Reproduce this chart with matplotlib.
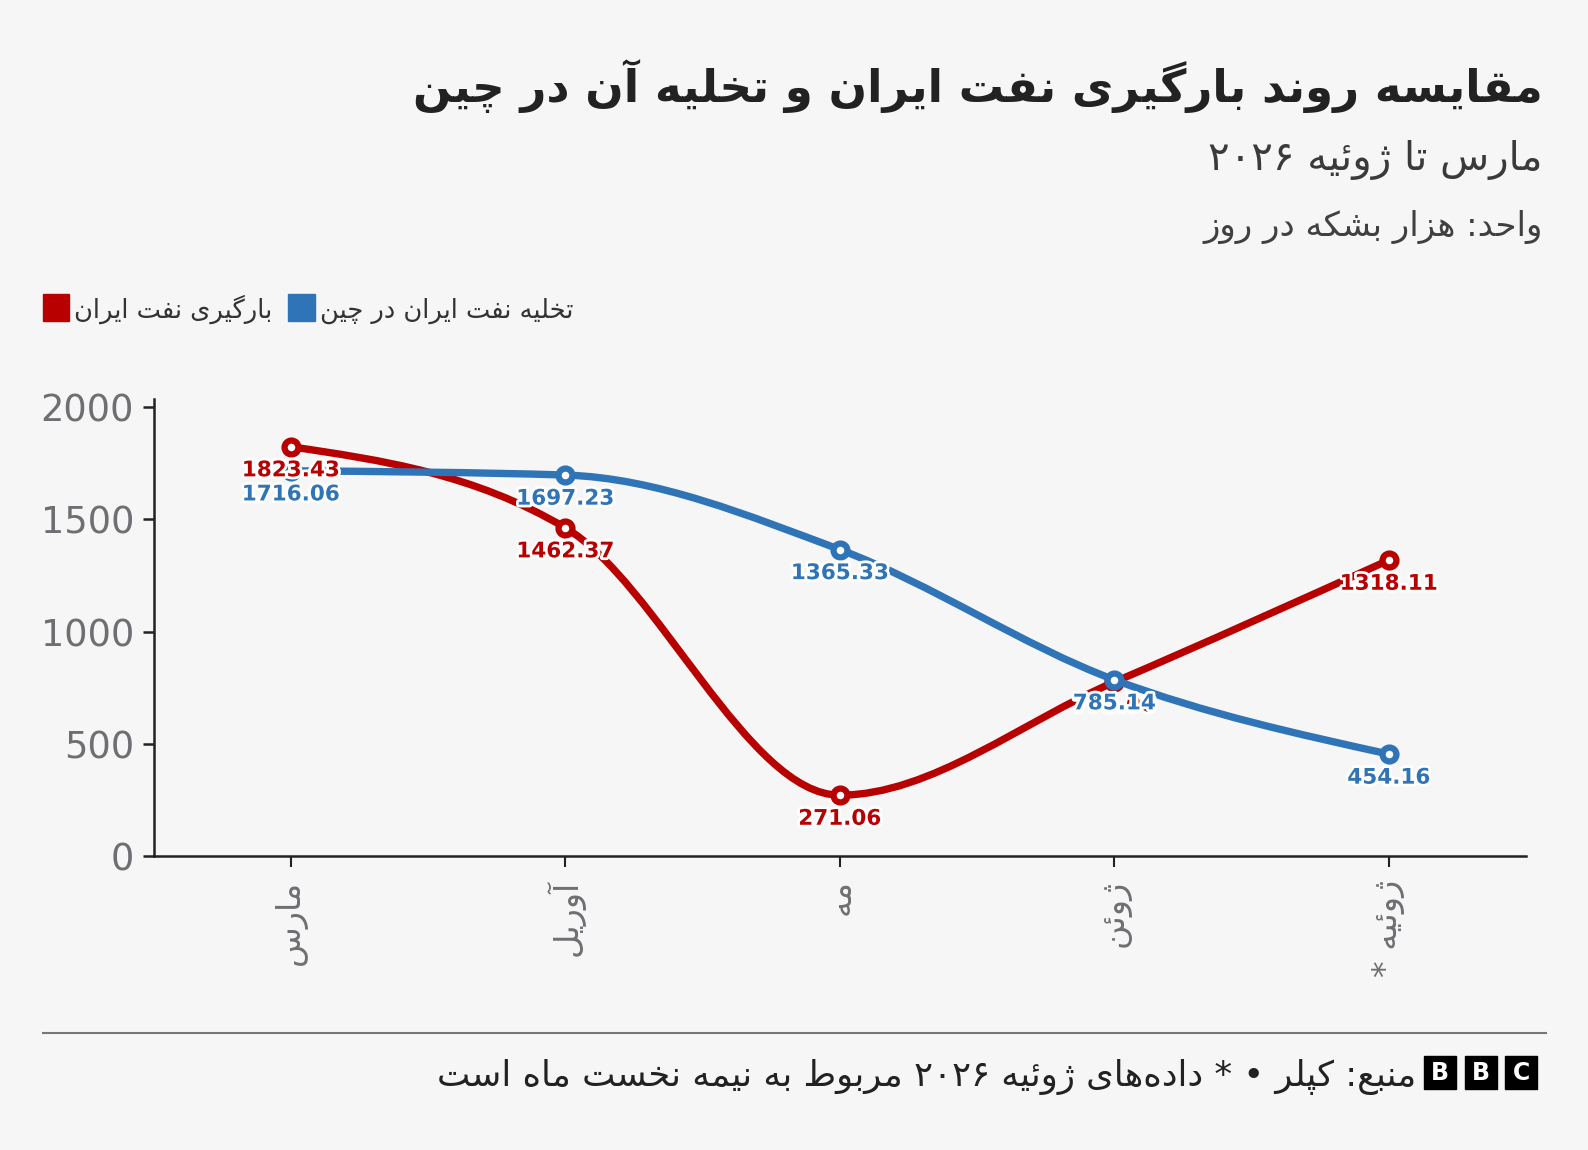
import re
import numpy as np
import matplotlib
matplotlib.use("Agg")
import matplotlib.pyplot as plt
import matplotlib.patches as patches
import matplotlib.patheffects as pe
from matplotlib.path import Path

# data (thousand barrels per day)
months = ["مارس", "آوریل", "مه", "ژوئن", "ژوئیه *"]
loading = [1823.43, 1462.37, 271.06, 775.0, 1318.11]      # بارگیری نفت ایران
unloading = [1716.06, 1697.23, 1365.33, 785.14, 454.16]   # تخلیه نفت ایران در چین
yticks = [0, 500, 1000, 1500, 2000]

title = "مقایسه روند بارگیری نفت ایران و تخلیه آن در چین"
subtitle = "مارس تا ژوئیه ۲۰۲۶"
unit = "واحد: هزار بشکه در روز"
legend_red = "بارگیری نفت ایران"
legend_blue = "تخلیه نفت ایران در چین"
footer = "منبع: کپلر • * داده‌های ژوئیه ۲۰۲۶ مربوط به نیمه نخست ماه است"

RED = "#b80000"
BLUE = "#2f74b6"
BG = "#f6f6f6"

# --- minimal Persian shaping (no arabic_reshaper available) ---
_DUAL = {
    'ب': 0xFE8F, 'ت': 0xFE95, 'ث': 0xFE99, 'ج': 0xFE9D, 'ح': 0xFEA1, 'خ': 0xFEA5,
    'س': 0xFEB1, 'ش': 0xFEB5, 'ص': 0xFEB9, 'ض': 0xFEBD, 'ط': 0xFEC1, 'ظ': 0xFEC5,
    'ع': 0xFEC9, 'غ': 0xFECD, 'ف': 0xFED1, 'ق': 0xFED5, 'ل': 0xFEDD, 'م': 0xFEE1,
    'ن': 0xFEE5, 'ه': 0xFEE9, 'ئ': 0xFE89,
    'پ': 0xFB56, 'چ': 0xFB7A, 'ک': 0xFB8E, 'گ': 0xFB92, 'ی': 0xFBFC,
}
_RIGHT = {'ا': 0xFE8D, 'آ': 0xFE81, 'أ': 0xFE83, 'ؤ': 0xFE85, 'إ': 0xFE87,
          'د': 0xFEA9, 'ذ': 0xFEAB, 'ر': 0xFEAD, 'ز': 0xFEAF, 'و': 0xFEED,
          'ة': 0xFE93, 'ژ': 0xFB8A}


def fa(text):
    out = []
    for i, ch in enumerate(text):
        prev = text[i - 1] if i else ''
        nxt = text[i + 1] if i + 1 < len(text) else ''
        joined_before = prev in _DUAL
        if ch in _DUAL:
            joined_after = nxt in _DUAL or nxt in _RIGHT
            k = (3 if joined_after else 1) if joined_before else (2 if joined_after else 0)
            out.append(chr(_DUAL[ch] + k))
        elif ch in _RIGHT:
            out.append(chr(_RIGHT[ch] + (1 if joined_before else 0)))
        elif ch != '\u200c':
            out.append(ch)
    vis = ''.join(reversed(out))
    return re.sub('[۰-۹0-9]+', lambda m: m.group(0)[::-1], vis)


def monotone_path(xs, ys):
    # same smoothing as d3.curveMonotoneX
    x = np.asarray(xs, float)
    y = np.asarray(ys, float)
    h = np.diff(x)
    s = np.diff(y) / h
    t = np.zeros(len(x))
    for i in range(1, len(x) - 1):
        s0, s1 = s[i - 1], s[i]
        p = (s0 * h[i] + s1 * h[i - 1]) / (h[i - 1] + h[i])
        sg = (1 if s0 >= 0 else -1) + (1 if s1 >= 0 else -1)
        t[i] = sg * min(abs(s0), abs(s1), 0.5 * abs(p))
    t[0] = (3 * s[0] - t[1]) / 2
    t[-1] = (3 * s[-1] - t[-2]) / 2
    verts = [(x[0], y[0])]
    codes = [Path.MOVETO]
    for i in range(len(x) - 1):
        dx = h[i] / 3
        verts += [(x[i] + dx, y[i] + dx * t[i]), (x[i + 1] - dx, y[i + 1] - dx * t[i + 1]),
                  (x[i + 1], y[i + 1])]
        codes += [Path.CURVE4] * 3
    return Path(verts, codes)


W, H = 1588, 1150
fig = plt.figure(figsize=(W / 100, H / 100), dpi=100, facecolor=BG)
plt.rcParams['font.family'] = ['DejaVu Sans']


def fx(x):
    return x / W


def fy(y):
    return 1 - y / H


ax = fig.add_axes([fx(153.5), fy(856), fx(1526) - fx(153.5), fy(399) - fy(856)])
ax.set_facecolor(BG)

xs = np.arange(len(months))
for vals, col, z in [(loading, RED, 3), (unloading, BLUE, 4)]:
    ax.add_patch(patches.PathPatch(monotone_path(xs, vals), fill=False, edgecolor=col,
                                   lw=5.3, capstyle='round', joinstyle='round', zorder=z))
    ax.plot(xs, vals, ls='none', marker='o', ms=10, mew=4.5, mec=col, mfc='white', zorder=z + 0.5)

halo = [pe.withStroke(linewidth=4, foreground='white')]
for vals, col, z in [(loading, RED, 6), (unloading, BLUE, 7)]:
    for xi, v in zip(xs, vals):
        ax.annotate(f"{v:.2f}", (xi, v), xytext=(0, -17), textcoords='offset points',
                    ha='center', va='center', fontsize=15.5, fontweight='bold', color=col,
                    path_effects=halo, zorder=z)

ax.set_xlim(-0.5, len(months) - 0.5)
ax.set_ylim(0, 2036)
ax.set_yticks(yticks)
ax.set_yticklabels([str(v) for v in yticks])
ax.set_xticks(xs)
ax.set_xticklabels([fa(m) for m in months], rotation=90)
for sp in ['top', 'right']:
    ax.spines[sp].set_visible(False)
for sp in ['left', 'bottom']:
    ax.spines[sp].set_color('#222222')
    ax.spines[sp].set_linewidth(1.8)
ax.tick_params(axis='y', length=8, width=1.8, color='#222222', labelsize=26.5,
               labelcolor='#6e6e73', pad=6)
ax.tick_params(axis='x', length=8, width=1.5, color='#222222', labelsize=24,
               labelcolor='#6e6e73', pad=9)

# titles
fig.text(fx(1543), fy(102), fa(title), ha='right', va='baseline', fontsize=32.5,
         fontweight='bold', color='#222222')
fig.text(fx(1543), fy(170), fa(subtitle), ha='right', va='baseline', fontsize=29, color='#3a3a3a')
fig.text(fx(1543), fy(236), fa(unit), ha='right', va='baseline', fontsize=24.5, color='#404040')

# legend
renderer = fig.canvas.get_renderer()
fig.add_artist(patches.Rectangle((fx(42.5), fy(321)), fx(26.5), fy(0) - fy(26.5),
                                 transform=fig.transFigure, color=RED))
t1 = fig.text(fx(74), fy(318), fa(legend_red), ha='left', va='baseline', fontsize=18.5,
              color='#333333')
x_end = t1.get_window_extent(renderer).x1
fig.add_artist(patches.Rectangle((fx(x_end + 16), fy(321)), fx(26.5), fy(0) - fy(26.5),
                                 transform=fig.transFigure, color=BLUE))
fig.text(fx(x_end + 48), fy(318), fa(legend_blue), ha='left', va='baseline', fontsize=18.5,
         color='#333333')

# footer
fig.add_artist(plt.Line2D([fx(42.5), fx(1545.5)], [fy(1033), fy(1033)], transform=fig.transFigure,
                          color='#777777', lw=1.5))
fig.text(fx(1416), fy(1086), fa(footer), ha='right', va='baseline', fontsize=25.5, color='#222222')
for i, letter in enumerate("BBC"):
    x0 = 1424 + i * 40.5
    fig.add_artist(patches.Rectangle((fx(x0), fy(1089)), fx(32), fy(0) - fy(33),
                                     transform=fig.transFigure, color='black'))
    fig.text(fx(x0 + 16), fy(1072.5), letter, ha='center', va='center', fontsize=17,
             fontweight='bold', color='white')

fig.savefig("out.png", dpi=100, facecolor=BG)
